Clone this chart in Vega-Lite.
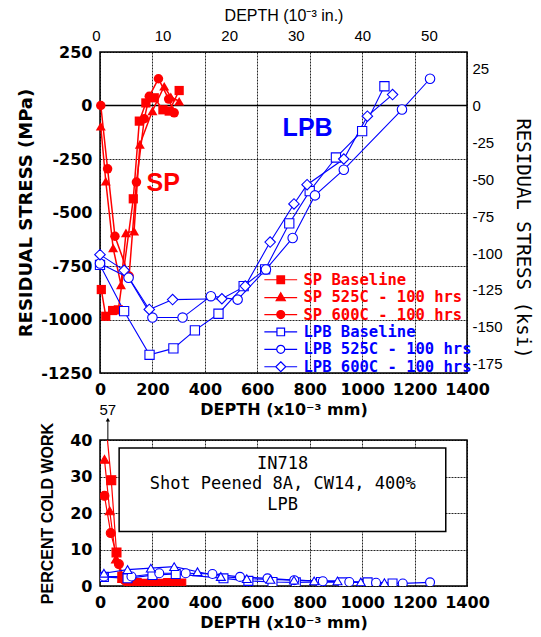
{
  "$schema": "https://vega.github.io/schema/vega-lite/v6.json",
  "background": "white",
  "padding": {"left": 17, "top": 6, "right": 5, "bottom": 5},
  "bounds": "flush",
  "spacing": 67,
  "resolve": {
    "scale": {"color": "independent", "fill": "independent", "stroke": "independent", "shape": "independent", "x": "independent", "y": "independent"},
    "legend": {"color": "independent", "fill": "independent", "stroke": "independent", "shape": "independent"}
  },
  "config": {
    "view": {"stroke": "black", "strokeWidth": 1.5},
    "axis": {"domain": false, "ticks": false, "gridColor": "black", "gridDash": [2, 1], "gridWidth": 1, "gridOpacity": 0.85, "labelColor": "black", "titleColor": "black", "labelFlush": false, "labelOverlap": false},
    "legend": {"padding": 0}
  },
  "datasets": {
    "top": [
      {"s": "SP Baseline", "d": 5, "v": -860},
      {"s": "SP Baseline", "d": 22, "v": -985},
      {"s": "SP Baseline", "d": 48, "v": -958},
      {"s": "SP Baseline", "d": 70, "v": -955},
      {"s": "SP Baseline", "d": 127, "v": -436},
      {"s": "SP Baseline", "d": 150, "v": -73},
      {"s": "SP Baseline", "d": 175, "v": 12},
      {"s": "SP Baseline", "d": 207, "v": 36},
      {"s": "SP Baseline", "d": 240, "v": -20},
      {"s": "SP Baseline", "d": 264, "v": -26},
      {"s": "SP Baseline", "d": 302, "v": 70},
      {"s": "SP 525C - 100 hrs", "d": 3, "v": -97},
      {"s": "SP 525C - 100 hrs", "d": 22, "v": -354},
      {"s": "SP 525C - 100 hrs", "d": 50, "v": -665},
      {"s": "SP 525C - 100 hrs", "d": 80, "v": -838},
      {"s": "SP 525C - 100 hrs", "d": 99, "v": -595},
      {"s": "SP 525C - 100 hrs", "d": 130, "v": -587},
      {"s": "SP 525C - 100 hrs", "d": 152, "v": -182},
      {"s": "SP 525C - 100 hrs", "d": 200, "v": -25},
      {"s": "SP 525C - 100 hrs", "d": 245, "v": 90},
      {"s": "SP 525C - 100 hrs", "d": 270, "v": 40},
      {"s": "SP 525C - 100 hrs", "d": 302, "v": 20},
      {"s": "SP 600C - 100 hrs", "d": 3, "v": 0},
      {"s": "SP 600C - 100 hrs", "d": 29, "v": -296},
      {"s": "SP 600C - 100 hrs", "d": 57, "v": -611},
      {"s": "SP 600C - 100 hrs", "d": 111, "v": -797},
      {"s": "SP 600C - 100 hrs", "d": 139, "v": -358},
      {"s": "SP 600C - 100 hrs", "d": 169, "v": -62},
      {"s": "SP 600C - 100 hrs", "d": 188, "v": 43},
      {"s": "SP 600C - 100 hrs", "d": 223, "v": 125},
      {"s": "SP 600C - 100 hrs", "d": 262, "v": 30},
      {"s": "SP 600C - 100 hrs", "d": 283, "v": -34},
      {"s": "LPB Baseline", "d": 0, "v": -745},
      {"s": "LPB Baseline", "d": 92, "v": -961},
      {"s": "LPB Baseline", "d": 189, "v": -1165},
      {"s": "LPB Baseline", "d": 280, "v": -1135},
      {"s": "LPB Baseline", "d": 362, "v": -1051},
      {"s": "LPB Baseline", "d": 452, "v": -973},
      {"s": "LPB Baseline", "d": 548, "v": -844},
      {"s": "LPB Baseline", "d": 630, "v": -766},
      {"s": "LPB Baseline", "d": 722, "v": -551},
      {"s": "LPB Baseline", "d": 800, "v": -400},
      {"s": "LPB Baseline", "d": 900, "v": -243},
      {"s": "LPB Baseline", "d": 1000, "v": -120},
      {"s": "LPB Baseline", "d": 1085, "v": 90},
      {"s": "LPB 525C - 100 hrs", "d": 0, "v": -738},
      {"s": "LPB 525C - 100 hrs", "d": 109, "v": -805},
      {"s": "LPB 525C - 100 hrs", "d": 200, "v": -991},
      {"s": "LPB 525C - 100 hrs", "d": 315, "v": -991},
      {"s": "LPB 525C - 100 hrs", "d": 423, "v": -891},
      {"s": "LPB 525C - 100 hrs", "d": 525, "v": -907},
      {"s": "LPB 525C - 100 hrs", "d": 633, "v": -766},
      {"s": "LPB 525C - 100 hrs", "d": 735, "v": -619},
      {"s": "LPB 525C - 100 hrs", "d": 820, "v": -420},
      {"s": "LPB 525C - 100 hrs", "d": 930, "v": -300},
      {"s": "LPB 525C - 100 hrs", "d": 1152, "v": -19},
      {"s": "LPB 525C - 100 hrs", "d": 1259, "v": 125},
      {"s": "LPB 600C - 100 hrs", "d": 0, "v": -697},
      {"s": "LPB 600C - 100 hrs", "d": 92, "v": -770},
      {"s": "LPB 600C - 100 hrs", "d": 188, "v": -953},
      {"s": "LPB 600C - 100 hrs", "d": 277, "v": -907},
      {"s": "LPB 600C - 100 hrs", "d": 465, "v": -903},
      {"s": "LPB 600C - 100 hrs", "d": 554, "v": -844},
      {"s": "LPB 600C - 100 hrs", "d": 649, "v": -638},
      {"s": "LPB 600C - 100 hrs", "d": 740, "v": -460},
      {"s": "LPB 600C - 100 hrs", "d": 790, "v": -370},
      {"s": "LPB 600C - 100 hrs", "d": 930, "v": -250},
      {"s": "LPB 600C - 100 hrs", "d": 1020, "v": -50},
      {"s": "LPB 600C - 100 hrs", "d": 1116, "v": 51}
    ],
    "bot": [
      {"s": "SP Baseline", "d": 6, "v": 57},
      {"s": "SP Baseline", "d": 43, "v": 29},
      {"s": "SP Baseline", "d": 63, "v": 9.2},
      {"s": "SP Baseline", "d": 85, "v": 2.5},
      {"s": "SP Baseline", "d": 110, "v": 1},
      {"s": "SP Baseline", "d": 140, "v": 0.8},
      {"s": "SP Baseline", "d": 170, "v": 0.6},
      {"s": "SP Baseline", "d": 200, "v": 0.8},
      {"s": "SP Baseline", "d": 230, "v": 0.6},
      {"s": "SP Baseline", "d": 260, "v": 0.8},
      {"s": "SP Baseline", "d": 290, "v": 0.6},
      {"s": "SP Baseline", "d": 310, "v": 0.7},
      {"s": "SP 525C", "d": 17, "v": 34.7},
      {"s": "SP 525C", "d": 37, "v": 20.6},
      {"s": "SP 525C", "d": 61, "v": 7.4},
      {"s": "SP 525C", "d": 85, "v": 2},
      {"s": "SP 525C", "d": 115, "v": 0.8},
      {"s": "SP 525C", "d": 150, "v": 0.5},
      {"s": "SP 525C", "d": 185, "v": 0.6},
      {"s": "SP 525C", "d": 220, "v": 0.5},
      {"s": "SP 525C", "d": 255, "v": 0.6},
      {"s": "SP 525C", "d": 290, "v": 0.5},
      {"s": "SP 600C", "d": 17, "v": 24.7},
      {"s": "SP 600C", "d": 41, "v": 14.5},
      {"s": "SP 600C", "d": 72, "v": 6},
      {"s": "SP 600C", "d": 95, "v": 1.5},
      {"s": "SP 600C", "d": 125, "v": 0.6},
      {"s": "SP 600C", "d": 160, "v": 0.5},
      {"s": "SP 600C", "d": 195, "v": 0.5},
      {"s": "SP 600C", "d": 230, "v": 0.4},
      {"s": "SP 600C", "d": 265, "v": 0.5},
      {"s": "SP 600C", "d": 300, "v": 0.4},
      {"s": "LPB Baseline", "d": 15, "v": 2.5},
      {"s": "LPB Baseline", "d": 105, "v": 2.1},
      {"s": "LPB Baseline", "d": 200, "v": 3.0},
      {"s": "LPB Baseline", "d": 289, "v": 3.3},
      {"s": "LPB Baseline", "d": 471, "v": 2.1},
      {"s": "LPB Baseline", "d": 566, "v": 1.4},
      {"s": "LPB Baseline", "d": 658, "v": 1.1},
      {"s": "LPB Baseline", "d": 747, "v": 1.0},
      {"s": "LPB Baseline", "d": 843, "v": 1.1},
      {"s": "LPB Baseline", "d": 926, "v": 1.0},
      {"s": "LPB Baseline", "d": 1021, "v": 1.0},
      {"s": "LPB Baseline", "d": 1116, "v": 0.7},
      {"s": "LPB 525C", "d": 15, "v": 2.6},
      {"s": "LPB 525C", "d": 120, "v": 2.6},
      {"s": "LPB 525C", "d": 226, "v": 3.5},
      {"s": "LPB 525C", "d": 327, "v": 3.5},
      {"s": "LPB 525C", "d": 429, "v": 3.3},
      {"s": "LPB 525C", "d": 534, "v": 2.5},
      {"s": "LPB 525C", "d": 639, "v": 2.1},
      {"s": "LPB 525C", "d": 741, "v": 1.6},
      {"s": "LPB 525C", "d": 850, "v": 1.3},
      {"s": "LPB 525C", "d": 951, "v": 1.1},
      {"s": "LPB 525C", "d": 1053, "v": 0.9},
      {"s": "LPB 525C", "d": 1155, "v": 0.7},
      {"s": "LPB 525C", "d": 1259, "v": 1.0},
      {"s": "LPB 600C", "d": 15, "v": 3.5},
      {"s": "LPB 600C", "d": 105, "v": 4.5},
      {"s": "LPB 600C", "d": 194, "v": 4.9},
      {"s": "LPB 600C", "d": 283, "v": 5.3},
      {"s": "LPB 600C", "d": 372, "v": 3.9},
      {"s": "LPB 600C", "d": 461, "v": 2.6},
      {"s": "LPB 600C", "d": 560, "v": 2.0},
      {"s": "LPB 600C", "d": 650, "v": 1.8},
      {"s": "LPB 600C", "d": 740, "v": 1.6},
      {"s": "LPB 600C", "d": 817, "v": 1.4},
      {"s": "LPB 600C", "d": 906, "v": 1.4},
      {"s": "LPB 600C", "d": 995, "v": 1.1},
      {"s": "LPB 600C", "d": 1085, "v": 0.9}
    ]
  },
  "vconcat": [
    {
      "width": 367,
      "height": 321,
      "layer": [
        {
          "data": {"values": [{"z": 0}]},
          "mark": {"type": "rule", "color": "black", "strokeWidth": 1.6},
          "encoding": {
            "y": {"field": "z", "type": "quantitative", "scale": {"domain": [-1250, 250], "nice": false, "zero": false}, "axis": null}
          }
        },
        {
          "data": {"name": "top"},
          "transform": [{"filter": "indexof(datum.s, 'SP') === 0"}],
          "mark": {"type": "line", "strokeWidth": 1.5, "color": "#ff0000"},
          "encoding": {
            "x": {"field": "d", "type": "quantitative", "scale": {"domain": [0, 1400], "nice": false, "zero": false},
              "axis": {"orient": "bottom", "values": [0, 200, 400, 600, 800, 1000, 1200, 1400], "format": "d", "grid": true, "title": "DEPTH (x10⁻³ mm)",
                "labelFont": "DejaVu Sans", "labelFontWeight": "bold", "labelFontSize": 16, "labelPadding": 8,
                "titleFont": "DejaVu Sans", "titleFontWeight": "bold", "titleFontSize": 16, "titlePadding": 4}},
            "y": {"field": "v", "type": "quantitative", "scale": {"domain": [-1250, 250], "nice": false, "zero": false},
              "axis": {"orient": "left", "values": [250, 0, -250, -500, -750, -1000, -1250], "grid": true, "labelExpr": "toString(datum.value)", "title": "RESIDUAL STRESS (MPa)",
                "labelFont": "DejaVu Sans", "labelFontWeight": "bold", "labelFontSize": 16, "labelPadding": 8,
                "titleFont": "DejaVu Sans", "titleFontWeight": "bold", "titleFontSize": 18, "titlePadding": 5}},
            "detail": {"field": "s", "type": "nominal"},
            "order": {"field": "d", "type": "quantitative"}
          }
        },
        {
          "data": {"name": "top"},
          "transform": [{"filter": "indexof(datum.s, 'LPB') === 0"}],
          "mark": {"type": "line", "strokeWidth": 1.1, "color": "#0000ff"},
          "encoding": {
            "x": {"field": "d", "type": "quantitative", "scale": {"domain": [0, 1400], "nice": false, "zero": false}, "axis": null},
            "y": {"field": "v", "type": "quantitative", "scale": {"domain": [-1250, 250], "nice": false, "zero": false}, "axis": null},
            "detail": {"field": "s", "type": "nominal"},
            "order": {"field": "d", "type": "quantitative"}
          }
        },
        {
          "data": {"name": "top"},
          "mark": {"type": "point", "opacity": 0, "size": 10},
          "encoding": {
            "x": {"field": "d", "type": "quantitative", "scale": {"domain": [0, 1400], "nice": false, "zero": false}, "axis": null},
            "y": {"field": "v", "type": "quantitative", "scale": {"domain": [-1250, 250], "nice": false, "zero": false}, "axis": null},
            "fill": {"field": "s", "type": "nominal",
              "scale": {"domain": ["SP Baseline", "SP 525C - 100 hrs", "SP 600C - 100 hrs", "LPB Baseline", "LPB 525C - 100 hrs", "LPB 600C - 100 hrs"], "range": ["#ff0000", "#ff0000", "#ff0000", "#ffffff", "#ffffff", "#ffffff"]},
              "legend": {"title": null, "orient": "none", "direction": "vertical", "legendX": 173, "legendY": 220, "labelFont": "DejaVu Sans Mono", "labelFontWeight": "bold", "labelFontSize": 15.5, "labelOffset": 15, "labelLimit": 400, "symbolSize": 64, "symbolOpacity": 1, "rowPadding": 0.4, "symbolStrokeWidth": 1.2, "labelColor": {"expr": "indexof(datum.value, 'SP') === 0 ? '#ff0000' : '#0000ff'"}}},
            "stroke": {"field": "s", "type": "nominal",
              "scale": {"domain": ["SP Baseline", "SP 525C - 100 hrs", "SP 600C - 100 hrs", "LPB Baseline", "LPB 525C - 100 hrs", "LPB 600C - 100 hrs"], "range": ["#ff0000", "#ff0000", "#ff0000", "#0000ff", "#0000ff", "#0000ff"]},
              "legend": {"title": null, "orient": "none", "direction": "vertical", "legendX": 173, "legendY": 220, "labelFont": "DejaVu Sans Mono", "labelFontWeight": "bold", "labelFontSize": 15.5, "labelOffset": 15, "labelLimit": 400, "symbolSize": 64, "symbolOpacity": 1, "rowPadding": 0.4, "symbolStrokeWidth": 1.2, "labelColor": {"expr": "indexof(datum.value, 'SP') === 0 ? '#ff0000' : '#0000ff'"}}},
            "shape": {"field": "s", "type": "nominal",
              "scale": {"domain": ["SP Baseline", "SP 525C - 100 hrs", "SP 600C - 100 hrs", "LPB Baseline", "LPB 525C - 100 hrs", "LPB 600C - 100 hrs"],
                "range": ["M-4.1,0H4.1M-0.95,-0.95H0.95V0.95H-0.95Z", "M-4.1,0.1H4.1M0,-1.1L1.15,0.9H-1.15Z", "M-4.1,0H4.1M1,0C1,0.552,0.552,1,0,1C-0.552,1,-1,0.552,-1,0C-1,-0.552,-0.552,-1,0,-1C0.552,-1,1,-0.552,1,0Z", "M-4.1,0H-0.95M0.95,0H4.1M-0.95,-0.95H0.95V0.95H-0.95Z", "M-4.1,0H-1M1,0H4.1M1,0C1,0.552,0.552,1,0,1C-0.552,1,-1,0.552,-1,0C-1,-0.552,-0.552,-1,0,-1C0.552,-1,1,-0.552,1,0Z", "M-4.1,0H-1.25M1.25,0H4.1M0,-1.25L1.25,0L0,1.25L-1.25,0Z"]},
              "legend": {"title": null, "orient": "none", "direction": "vertical", "legendX": 173, "legendY": 220, "labelFont": "DejaVu Sans Mono", "labelFontWeight": "bold", "labelFontSize": 15.5, "labelOffset": 15, "labelLimit": 400, "symbolSize": 64, "symbolOpacity": 1, "rowPadding": 0.4, "symbolStrokeWidth": 1.2, "labelColor": {"expr": "indexof(datum.value, 'SP') === 0 ? '#ff0000' : '#0000ff'"}}}
          }
        },
        {
          "data": {"name": "top"},
          "transform": [{"filter": "datum.s === 'SP Baseline'"}],
          "mark": {"type": "point", "shape": "square", "filled": true, "color": "#ff0000", "size": 85, "opacity": 1},
          "encoding": {
            "x": {"field": "d", "type": "quantitative", "scale": {"domain": [0, 1400], "nice": false, "zero": false}, "axis": null},
            "y": {"field": "v", "type": "quantitative", "scale": {"domain": [-1250, 250], "nice": false, "zero": false}, "axis": null}
          }
        },
        {
          "data": {"name": "top"},
          "transform": [{"filter": "datum.s === 'SP 525C - 100 hrs'"}],
          "mark": {"type": "point", "shape": "triangle-up", "filled": true, "color": "#ff0000", "size": 100, "opacity": 1},
          "encoding": {
            "x": {"field": "d", "type": "quantitative", "scale": {"domain": [0, 1400], "nice": false, "zero": false}, "axis": null},
            "y": {"field": "v", "type": "quantitative", "scale": {"domain": [-1250, 250], "nice": false, "zero": false}, "axis": null}
          }
        },
        {
          "data": {"name": "top"},
          "transform": [{"filter": "datum.s === 'SP 600C - 100 hrs'"}],
          "mark": {"type": "point", "shape": "circle", "filled": true, "color": "#ff0000", "size": 90, "opacity": 1},
          "encoding": {
            "x": {"field": "d", "type": "quantitative", "scale": {"domain": [0, 1400], "nice": false, "zero": false}, "axis": null},
            "y": {"field": "v", "type": "quantitative", "scale": {"domain": [-1250, 250], "nice": false, "zero": false}, "axis": null}
          }
        },
        {
          "data": {"name": "top"},
          "transform": [{"filter": "datum.s === 'LPB Baseline'"}],
          "mark": {"type": "point", "shape": "square", "fill": "white", "stroke": "#0000ff", "strokeWidth": 1.1, "size": 85, "opacity": 1},
          "encoding": {
            "x": {"field": "d", "type": "quantitative", "scale": {"domain": [0, 1400], "nice": false, "zero": false}, "axis": null},
            "y": {"field": "v", "type": "quantitative", "scale": {"domain": [-1250, 250], "nice": false, "zero": false}, "axis": null}
          }
        },
        {
          "data": {"name": "top"},
          "transform": [{"filter": "datum.s === 'LPB 525C - 100 hrs'"}],
          "mark": {"type": "point", "shape": "circle", "fill": "white", "stroke": "#0000ff", "strokeWidth": 1.1, "size": 90, "opacity": 1},
          "encoding": {
            "x": {"field": "d", "type": "quantitative", "scale": {"domain": [0, 1400], "nice": false, "zero": false}, "axis": null},
            "y": {"field": "v", "type": "quantitative", "scale": {"domain": [-1250, 250], "nice": false, "zero": false}, "axis": null}
          }
        },
        {
          "data": {"name": "top"},
          "transform": [{"filter": "datum.s === 'LPB 600C - 100 hrs'"}],
          "mark": {"type": "point", "shape": "diamond", "fill": "white", "stroke": "#0000ff", "strokeWidth": 1.1, "size": 110, "opacity": 1},
          "encoding": {
            "x": {"field": "d", "type": "quantitative", "scale": {"domain": [0, 1400], "nice": false, "zero": false}, "axis": null},
            "y": {"field": "v", "type": "quantitative", "scale": {"domain": [-1250, 250], "nice": false, "zero": false}, "axis": null}
          }
        },
        {
          "data": {"values": [{"d": 241, "v": -364, "label": "SP"}]},
          "mark": {"type": "text", "color": "#ff0000", "font": "Liberation Sans", "fontWeight": "bold", "fontSize": 25, "align": "center", "baseline": "middle"},
          "encoding": {
            "x": {"field": "d", "type": "quantitative", "scale": {"domain": [0, 1400], "nice": false, "zero": false},
              "axis": {"orient": "top", "values": [0, 254, 508, 762, 1016, 1270], "grid": false, "labelExpr": "toString(round(datum.value / 25.4))", "labelOffset": -4, "title": "DEPTH (10⁻³ in.)",
                "labelFont": "Liberation Sans", "labelFontWeight": "normal", "labelFontSize": 15, "labelPadding": 9,
                "titleFont": "Liberation Sans", "titleFontWeight": "normal", "titleFontSize": 16, "titlePadding": 5}},
            "y": {"field": "v", "type": "quantitative", "scale": {"domain": [-1250, 250], "nice": false, "zero": false},
              "axis": {"orient": "right", "values": [172.37, 0, -172.37, -344.74, -517.11, -689.48, -861.84, -1034.21, -1206.58], "grid": false, "labelExpr": "toString(round(datum.value / 6.894757))", "title": "RESIDUAL STRESS (ksi)",
                "labelFont": "Liberation Sans", "labelFontWeight": "normal", "labelFontSize": 15, "labelPadding": 5,
                "titleFont": "DejaVu Sans Mono", "titleFontWeight": "normal", "titleFontSize": 19, "titlePadding": 10, "titleY": 186}},
            "text": {"field": "label"}
          }
        },
        {
          "data": {"values": [{"d": 792, "v": -103, "label": "LPB"}]},
          "mark": {"type": "text", "color": "#0000ff", "font": "Liberation Sans", "fontWeight": "bold", "fontSize": 25, "align": "center", "baseline": "middle"},
          "encoding": {
            "x": {"field": "d", "type": "quantitative", "scale": {"domain": [0, 1400], "nice": false, "zero": false}, "axis": null},
            "y": {"field": "v", "type": "quantitative", "scale": {"domain": [-1250, 250], "nice": false, "zero": false}, "axis": null},
            "text": {"field": "label"}
          }
        }
      ],
      "resolve": {"axis": {"x": "independent", "y": "independent"}}
    },
    {
      "width": 367,
      "height": 146,
      "layer": [
        {
          "data": {"values": [{"x1": 73, "x2": 1319, "y1": 37.8, "y2": 14.9}]},
          "mark": {"type": "rect", "fill": "white", "stroke": "black", "strokeWidth": 1.5},
          "encoding": {
            "x": {"field": "x1", "type": "quantitative", "scale": {"domain": [0, 1400], "nice": false, "zero": false},
              "axis": {"orient": "bottom", "values": [0, 200, 400, 600, 800, 1000, 1200, 1400], "format": "d", "grid": true, "title": "DEPTH (x10⁻³ mm)",
                "labelFont": "DejaVu Sans", "labelFontWeight": "bold", "labelFontSize": 16, "labelPadding": 8,
                "titleFont": "DejaVu Sans", "titleFontWeight": "bold", "titleFontSize": 16, "titlePadding": 4}},
            "x2": {"field": "x2"},
            "y": {"field": "y1", "type": "quantitative", "scale": {"domain": [0, 40], "nice": false, "zero": false},
              "axis": {"orient": "left", "values": [0, 10, 20, 30, 40], "format": "d", "grid": true, "title": "PERCENT COLD WORK",
                "labelFont": "DejaVu Sans", "labelFontWeight": "bold", "labelFontSize": 16, "labelPadding": 8,
                "titleFont": "Liberation Sans", "titleFontWeight": "bold", "titleFontSize": 16, "titlePadding": 14}},
            "y2": {"field": "y2"}
          }
        },
        {
          "data": {"name": "bot"},
          "mark": {"type": "line", "strokeWidth": 1.2, "clip": true},
          "encoding": {
            "x": {"field": "d", "type": "quantitative", "scale": {"domain": [0, 1400], "nice": false, "zero": false}, "axis": null},
            "y": {"field": "v", "type": "quantitative", "scale": {"domain": [0, 40], "nice": false, "zero": false}, "axis": null},
            "color": {"field": "s", "type": "nominal", "scale": {"domain": ["SP Baseline", "SP 525C", "SP 600C", "LPB Baseline", "LPB 525C", "LPB 600C"], "range": ["#ff0000", "#ff0000", "#ff0000", "#0000ff", "#0000ff", "#0000ff"]}, "legend": null},
            "order": {"field": "d", "type": "quantitative"}
          }
        },
        {
          "data": {"name": "bot"},
          "mark": {"type": "point", "size": 80, "strokeWidth": 1.1, "opacity": 1, "clip": true},
          "encoding": {
            "x": {"field": "d", "type": "quantitative", "scale": {"domain": [0, 1400], "nice": false, "zero": false}, "axis": null},
            "y": {"field": "v", "type": "quantitative", "scale": {"domain": [0, 40], "nice": false, "zero": false}, "axis": null},
            "fill": {"field": "s", "type": "nominal", "scale": {"domain": ["SP Baseline", "SP 525C", "SP 600C", "LPB Baseline", "LPB 525C", "LPB 600C"], "range": ["#ff0000", "#ff0000", "#ff0000", "white", "white", "white"]}, "legend": null},
            "stroke": {"field": "s", "type": "nominal", "scale": {"domain": ["SP Baseline", "SP 525C", "SP 600C", "LPB Baseline", "LPB 525C", "LPB 600C"], "range": ["#ff0000", "#ff0000", "#ff0000", "#0000ff", "#0000ff", "#0000ff"]}, "legend": null},
            "shape": {"field": "s", "type": "nominal", "scale": {"domain": ["SP Baseline", "SP 525C", "SP 600C", "LPB Baseline", "LPB 525C", "LPB 600C"], "range": ["square", "triangle-up", "circle", "square", "circle", "triangle-up"]}, "legend": null}
          }
        },
        {
          "data": {"values": [
            {"d": 697, "v": 33.3, "t": "IN718"},
            {"d": 697, "v": 27.9, "t": "Shot Peened 8A, CW14, 400%"},
            {"d": 697, "v": 22.1, "t": "LPB"}
          ]},
          "mark": {"type": "text", "font": "DejaVu Sans Mono", "fontSize": 17, "color": "black", "align": "center", "baseline": "middle"},
          "encoding": {
            "x": {"field": "d", "type": "quantitative", "scale": {"domain": [0, 1400], "nice": false, "zero": false}, "axis": null},
            "y": {"field": "v", "type": "quantitative", "scale": {"domain": [0, 40], "nice": false, "zero": false}, "axis": null},
            "text": {"field": "t"}
          }
        },
        {
          "data": {"values": [{"d": 30, "v": 40, "v2": 45.6}]},
          "mark": {"type": "rule", "color": "black", "strokeWidth": 1},
          "encoding": {
            "x": {"field": "d", "type": "quantitative", "scale": {"domain": [0, 1400], "nice": false, "zero": false}, "axis": null},
            "y": {"field": "v", "type": "quantitative", "scale": {"domain": [0, 40], "nice": false, "zero": false}, "axis": null},
            "y2": {"field": "v2"}
          }
        },
        {
          "data": {"values": [{"d": 30, "v": 45.6}]},
          "mark": {"type": "point", "shape": "triangle-up", "filled": true, "color": "black", "size": 18, "opacity": 1},
          "encoding": {
            "x": {"field": "d", "type": "quantitative", "scale": {"domain": [0, 1400], "nice": false, "zero": false}, "axis": null},
            "y": {"field": "v", "type": "quantitative", "scale": {"domain": [0, 40], "nice": false, "zero": false}, "axis": null}
          }
        },
        {
          "data": {"values": [{"d": 30, "v": 48.3, "t": "57"}]},
          "mark": {"type": "text", "font": "Liberation Sans", "fontSize": 15, "color": "black", "align": "center", "baseline": "middle"},
          "encoding": {
            "x": {"field": "d", "type": "quantitative", "scale": {"domain": [0, 1400], "nice": false, "zero": false}, "axis": null},
            "y": {"field": "v", "type": "quantitative", "scale": {"domain": [0, 40], "nice": false, "zero": false}, "axis": null},
            "text": {"field": "t"}
          }
        }
      ],
      "resolve": {"axis": {"x": "independent", "y": "independent"}}
    }
  ]
}
